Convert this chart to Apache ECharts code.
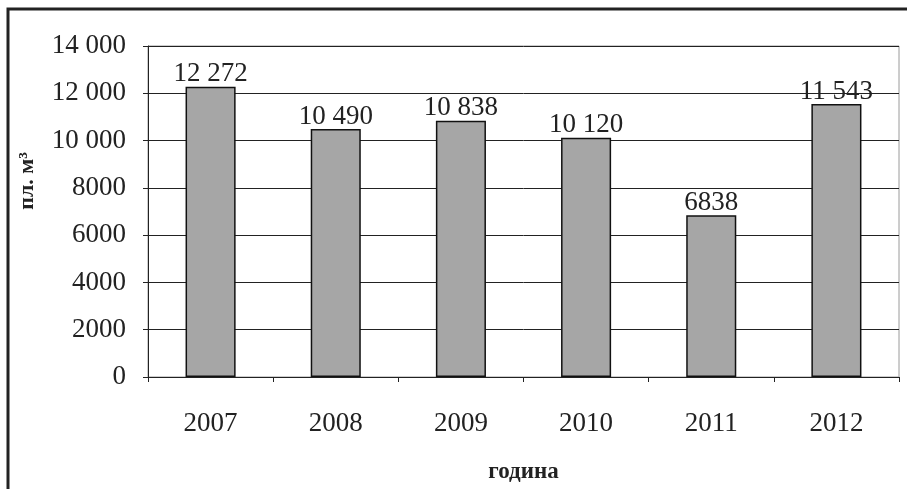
<!DOCTYPE html>
<html><head><meta charset="utf-8">
<script src="https://cdn.jsdelivr.net/npm/echarts@6/dist/echarts.min.js"></script>
<style>html,body{margin:0;padding:0;background:#fff}#c{width:907px;height:489px}</style>
</head><body><div id="c"></div>
<script>
const categories = ['2007','2008','2009','2010','2011','2012'];
const values = [12272, 10490, 10838, 10120, 6838, 11543];
const yTicks = [0, 2000, 4000, 6000, 8000, 10000, 12000, 14000];

function fmt(v){ return v >= 10000 ? String(v).replace(/\B(?=(\d{3})+(?!\d))/g,' ') : String(v); }

const serif = '"Liberation Serif", "DejaVu Serif", serif';
const chart = echarts.init(document.getElementById('c'), null, {renderer:'canvas'});
chart.setOption({
  animation:false,
  backgroundColor:'#fff',
  grid:{left:148, right:8, top:46, bottom:108, show:true, borderColor:'#9a9a9a', borderWidth:1},
  xAxis:{
    type:'category', data:categories,
    axisLine:{lineStyle:{color:'#222', width:1}},
    axisTick:{show:true, length:5, alignWithLabel:false, lineStyle:{color:'#222'}},
    axisLabel:{fontFamily:serif, fontSize:27, color:'#222', margin:33},
    name:'година', nameLocation:'middle', nameGap:84,
    nameTextStyle:{fontFamily:serif, fontSize:23, fontWeight:'bold', color:'#222'}
  },
  yAxis:{
    type:'value', min:0, max:14000, interval:2000,
    axisLine:{show:true, lineStyle:{color:'#222', width:1}},
    axisTick:{show:true, length:5, lineStyle:{color:'#222'}},
    axisLabel:{fontFamily:serif, fontSize:27, color:'#222', margin:22, formatter:v=>fmt(v)},
    splitLine:{lineStyle:{color:'#222', width:1}}
  },
  series:[{
    type:'bar', data:values, barWidth:'40%',
    itemStyle:{color:'#a6a6a6', borderColor:'#111', borderWidth:1.5},
    label:{show:true, position:'top', distance:-1, fontFamily:serif, fontSize:27, color:'#222', formatter:p=>fmt(p.value)}
  }],
  graphic:[
    {type:'rect', shape:{x:8, y:9, width:1000, height:1000}, style:{fill:null, stroke:'#222', lineWidth:3}, silent:true},
    {type:'text', x:27, y:181, rotation:Math.PI/2, style:{text:'пл. м³', font:'bold 22px "Liberation Serif", serif', fill:'#222', align:'center', verticalAlign:'middle'}}
  ]
});
</script></body></html>
